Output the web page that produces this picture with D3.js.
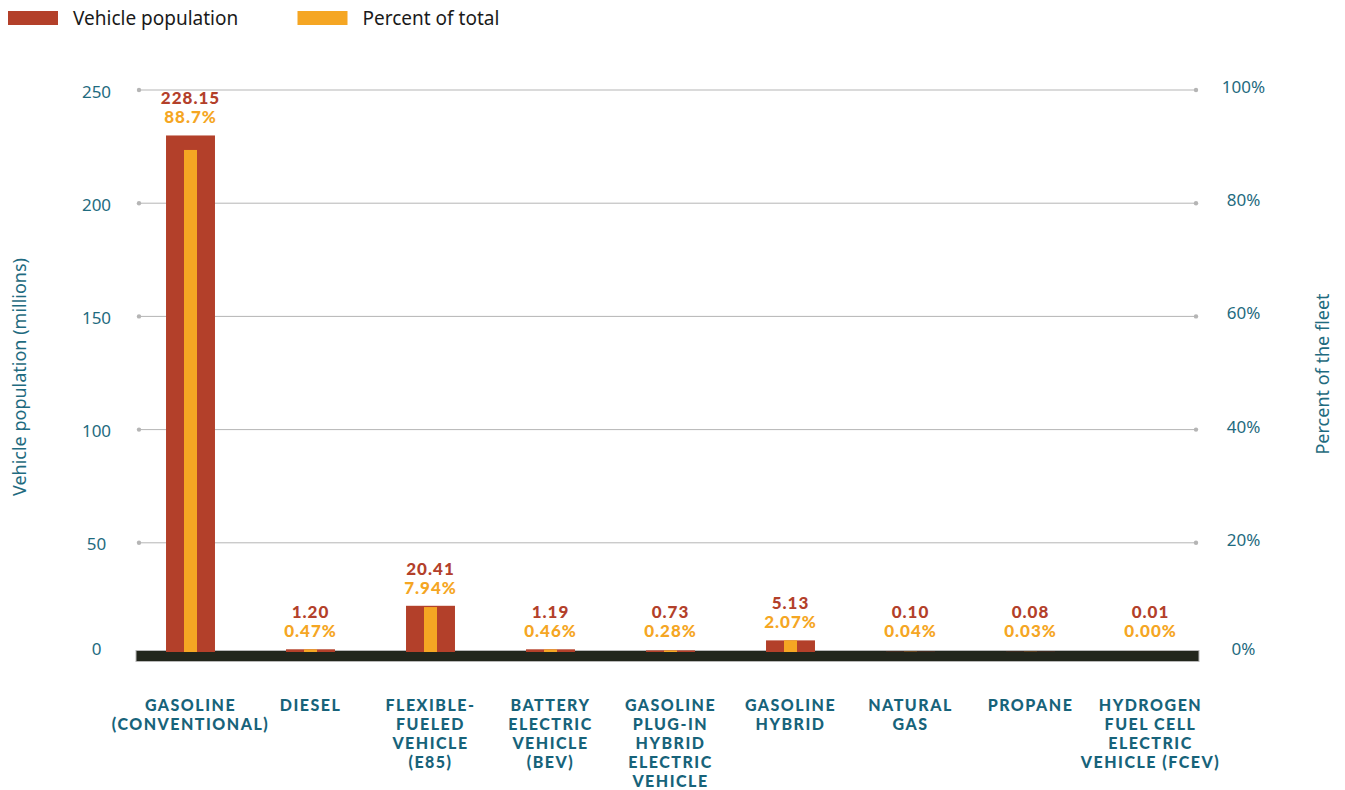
<!DOCTYPE html>
<html>
<head>
<meta charset="utf-8">
<script src="https://cdn.jsdelivr.net/npm/d3@7"></script>
<style>
  body { margin: 0; background: #fff; }
  #graf text { font-family: "Noto Sans", sans-serif; }
  .tick-label { fill: #1f6b80; font-size: 17px; }
  .axis-title { fill: #1f6b80; font-size: 18px; }
  .legend-text { fill: #1a1a1a; font-size: 19px; }
  #graf .value { font-family: Lato, sans-serif; font-weight: 900; font-size: 17px; letter-spacing: 1px; }
  #graf .cat { font-family: Lato, sans-serif; font-weight: 900; font-size: 16px; fill: #17637a; letter-spacing: 1.5px; }
</style>
</head>
<body>
<div id="graf"></div>
<script>
// Datos
const categories = [
  ['GASOLINE', '(CONVENTIONAL)'],
  ['DIESEL'],
  ['FLEXIBLE-', 'FUELED', 'VEHICLE', '(E85)'],
  ['BATTERY', 'ELECTRIC', 'VEHICLE', '(BEV)'],
  ['GASOLINE', 'PLUG-IN', 'HYBRID', 'ELECTRIC', 'VEHICLE'],
  ['GASOLINE', 'HYBRID'],
  ['NATURAL', 'GAS'],
  ['PROPANE'],
  ['HYDROGEN', 'FUEL CELL', 'ELECTRIC', 'VEHICLE (FCEV)']
]
const population = [228.15, 1.20, 20.41, 1.19, 0.73, 5.13, 0.10, 0.08, 0.01]
const percent = [88.7, 0.47, 7.94, 0.46, 0.28, 2.07, 0.04, 0.03, 0.00]
const leftTicks = [0, 50, 100, 150, 200, 250]
const rightTicks = [0, 20, 40, 60, 80, 100]

const colorPop = '#b3402a'
const colorPct = '#f5a623'

const anchoTotal = 1345
const altoTotal = 790

const svg = d3.select('#graf')
  .append('svg')
  .attr('width', anchoTotal)
  .attr('height', altoTotal)

// Escaladores
const keys = categories.map((d, i) => i)

const x = d3.scaleBand()
  .domain(keys)
  .range([130.5, 1210.5])
  .paddingInner(0.592)
  .paddingOuter(0.296)

const yLeft = d3.scaleLinear().domain([0, 250]).range([656, 90])
const yRight = d3.scaleLinear().domain([0, 100]).range([656, 90])

// Las barras se apoyan sobre la linea base
const barShift = 4

// Lineas de cuadricula con puntos
const grid = svg.append('g')
const gridTicks = leftTicks.filter(d => d > 0)

grid.selectAll('line')
  .data(gridTicks)
  .join('line')
  .attr('x1', 139)
  .attr('x2', 1196)
  .attr('y1', d => yLeft(d))
  .attr('y2', d => yLeft(d))
  .attr('stroke', '#b5b5b5')
  .attr('stroke-width', 1)

grid.selectAll('circle.l')
  .data(gridTicks)
  .join('circle')
  .attr('class', 'l')
  .attr('cx', 139)
  .attr('cy', d => yLeft(d))
  .attr('r', 2.2)
  .attr('fill', '#b5b5b5')

grid.selectAll('circle.r')
  .data(gridTicks)
  .join('circle')
  .attr('class', 'r')
  .attr('cx', 1196)
  .attr('cy', d => yLeft(d))
  .attr('r', 2.2)
  .attr('fill', '#b5b5b5')

// Etiquetas de eje izquierdo
svg.append('g')
  .selectAll('text')
  .data(leftTicks)
  .join('text')
  .attr('class', 'tick-label')
  .attr('x', 96.5)
  .attr('y', d => yLeft(d) + (d === 0 ? -8 : 1))
  .attr('text-anchor', 'middle')
  .attr('dominant-baseline', 'central')
  .text(d => d)

// Etiquetas de eje derecho
svg.append('g')
  .selectAll('text')
  .data(rightTicks)
  .join('text')
  .attr('class', 'tick-label')
  .attr('x', 1243.5)
  .attr('y', d => yRight(d) + (d === 0 ? -8 : -3.5))
  .attr('text-anchor', 'middle')
  .attr('dominant-baseline', 'central')
  .text(d => d + '%')

// Linea base
svg.append('rect')
  .attr('x', 136)
  .attr('y', 650.5)
  .attr('width', 1199 - 136)
  .attr('height', 11)
  .attr('fill', '#22261c')
  .attr('stroke', '#b8b8b8')
  .attr('stroke-width', 1)

// Barras de poblacion
const bars = svg.append('g')

bars.selectAll('rect.pop')
  .data(population)
  .join('rect')
  .attr('class', 'pop')
  .attr('x', (d, i) => x(i))
  .attr('width', x.bandwidth())
  .attr('y', d => yLeft(d) - barShift)
  .attr('height', d => yLeft(0) - yLeft(d))
  .attr('fill', colorPop)

// Barras de porcentaje
const pctWidth = 13

bars.selectAll('rect.pct')
  .data(percent)
  .join('rect')
  .attr('class', 'pct')
  .attr('x', (d, i) => x(i) + x.bandwidth() / 2 - pctWidth / 2)
  .attr('width', pctWidth)
  .attr('y', d => yRight(d) - barShift)
  .attr('height', d => yRight(0) - yRight(d))
  .attr('fill', colorPct)

// Etiquetas de valores
const labelY = (i) => Math.min(yLeft(population[i]) - barShift - 12, 637)
const labels = svg.append('g')

labels.selectAll('text.pct')
  .data(percent)
  .join('text')
  .attr('class', 'value pct')
  .attr('x', (d, i) => x(i) + x.bandwidth() / 2)
  .attr('y', (d, i) => labelY(i))
  .attr('text-anchor', 'middle')
  .attr('fill', colorPct)
  .text(d => (d >= 10 ? d.toFixed(1) : d.toFixed(2)) + '%')

labels.selectAll('text.pop')
  .data(population)
  .join('text')
  .attr('class', 'value pop')
  .attr('x', (d, i) => x(i) + x.bandwidth() / 2)
  .attr('y', (d, i) => labelY(i) - 19)
  .attr('text-anchor', 'middle')
  .attr('fill', colorPop)
  .text(d => d.toFixed(2))

// Categorias
const cats = svg.append('g')
  .selectAll('text')
  .data(categories)
  .join('text')
  .attr('class', 'cat')
  .attr('x', (d, i) => x(i) + x.bandwidth() / 2)
  .attr('y', 711)
  .attr('text-anchor', 'middle')

cats.selectAll('tspan')
  .data(d => d)
  .join('tspan')
  .attr('x', function () { return d3.select(this.parentNode).attr('x') })
  .attr('dy', (d, i) => i === 0 ? 0 : 19)
  .text(d => d)

// Titulos de ejes
svg.append('text')
  .attr('class', 'axis-title')
  .attr('text-anchor', 'middle')
  .attr('transform', 'translate(26, 377) rotate(-90)')
  .text('Vehicle population (millions)')

svg.append('text')
  .attr('class', 'axis-title')
  .attr('text-anchor', 'middle')
  .attr('transform', 'translate(1329, 374) rotate(-90)')
  .text('Percent of the fleet')

// Leyenda
const legend = [
  { text: 'Vehicle population', color: colorPop, x: 8 },
  { text: 'Percent of total', color: colorPct, x: 297.5 }
]

const lg = svg.append('g')
  .selectAll('g')
  .data(legend)
  .join('g')
  .attr('transform', d => `translate(${d.x}, 0)`)

lg.append('rect')
  .attr('y', 11)
  .attr('width', 50)
  .attr('height', 14)
  .attr('fill', d => d.color)

lg.append('text')
  .attr('class', 'legend-text')
  .attr('x', 65)
  .attr('y', 25)
  .text(d => d.text)
</script>
</body>
</html>
